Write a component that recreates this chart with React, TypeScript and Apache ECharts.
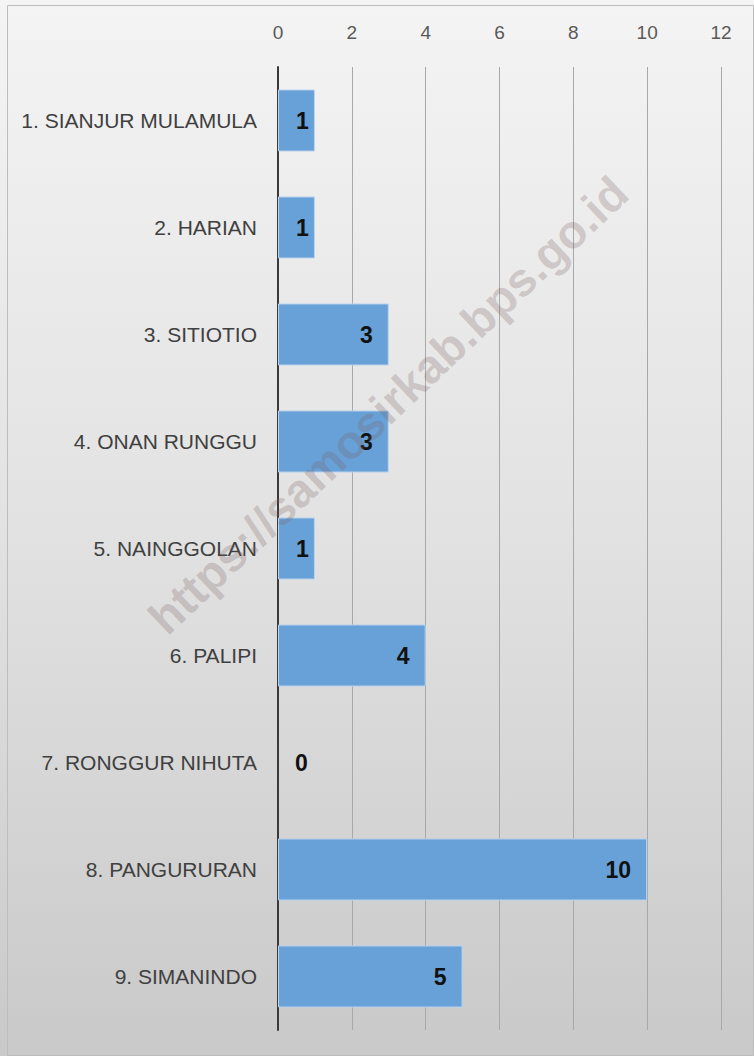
import React, { useEffect, useRef } from "react";
import * as echarts from "echarts";

const categories = [
  "1. SIANJUR MULAMULA",
  "2. HARIAN",
  "3. SITIOTIO",
  "4. ONAN RUNGGU",
  "5. NAINGGOLAN",
  "6. PALIPI",
  "7. RONGGUR NIHUTA",
  "8. PANGURURAN",
  "9. SIMANINDO",
];
const values = [1, 1, 3, 3, 1, 4, 0, 10, 5];
const xTicks = { min: 0, max: 12, interval: 2 };
const watermark = "https://samosirkab.bps.go.id";

export default function App() {
  const ref = useRef<HTMLDivElement>(null);
  useEffect(() => {
    document.body.style.margin = "0";
    const chart = echarts.init(ref.current!, null, { renderer: "svg" });
    const font = "'Liberation Sans', Arial, sans-serif";
    const data = values.map((v) => {
      if (v === 0)
        return {
          value: v,
          itemStyle: { borderWidth: 0 },
          label: { position: "right", distance: 17 },
        };
      if (v === 1) return { value: v, label: { distance: 6 } };
      return { value: v };
    });
    chart.setOption({
      animation: false,
      backgroundColor: new echarts.graphic.LinearGradient(0, 0, 0, 1, [
        { offset: 0, color: "#f4f4f4" },
        { offset: 0.5, color: "#e2e2e2" },
        { offset: 1, color: "#c9c9c9" },
      ]),
      grid: { left: 278, right: 33, top: 67, bottom: 26 },
      xAxis: {
        type: "value",
        position: "top",
        min: xTicks.min,
        max: xTicks.max,
        interval: xTicks.interval,
        axisLine: { show: false },
        axisTick: { show: false },
        axisLabel: { color: "#595959", fontSize: 19, fontFamily: font, margin: 25 },
        splitLine: { show: true, lineStyle: { color: "#a8a8a8", width: 1 } },
      },
      yAxis: {
        type: "category",
        inverse: true,
        data: categories,
        axisLine: { show: true, lineStyle: { color: "#3a3a3a", width: 2 } },
        axisTick: { show: false },
        axisLabel: { color: "#404040", fontSize: 21, fontFamily: font, margin: 21 },
      },
      series: [
        {
          type: "bar",
          data,
          barCategoryGap: "42%",
          itemStyle: { color: "#68a1d7", borderColor: "#b9d3ec", borderWidth: 1 },
          label: {
            show: true,
            position: "insideRight",
            distance: 16,
            color: "#111111",
            fontWeight: "bold",
            fontSize: 23,
            fontFamily: font,
          },
        },
      ],
      graphic: [
        {
          type: "rect",
          left: 5,
          top: 3,
          shape: { width: 746, height: 1050 },
          style: { fill: "none", stroke: "#bdbdbd", lineWidth: 1 },
          silent: true,
        },
        {
          type: "text",
          x: 388,
          y: 405,
          rotation: (43.5 * Math.PI) / 180,
          style: {
            text: watermark,
            font: "bold 47px 'Liberation Sans', Arial, sans-serif",
            fill: "rgba(120, 95, 95, 0.26)",
            align: "center",
            verticalAlign: "middle",
          },
          silent: true,
          z: 100,
        },
      ],
    });
    return () => chart.dispose();
  }, []);
  return <div ref={ref} style={{ width: 754, height: 1056 }} />;
}
